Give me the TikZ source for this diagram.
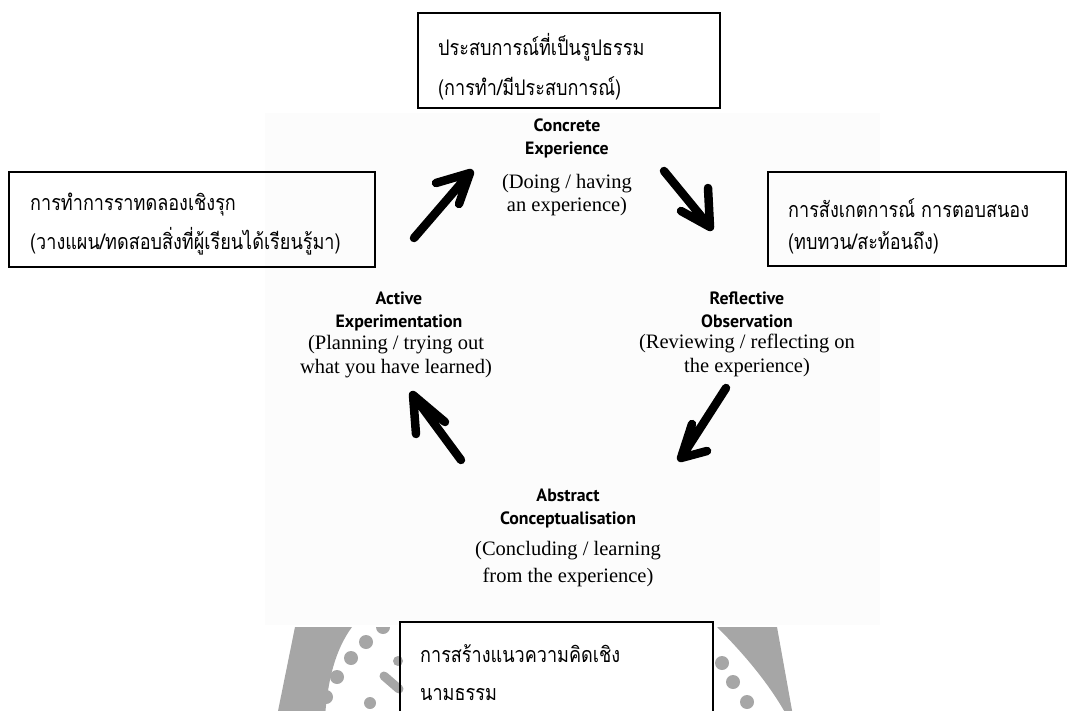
\documentclass[tikz,border=0pt]{standalone}
\usepackage{fontspec}
\usepackage{graphicx}
\setmainfont{Liberation Serif}
\newfontfamily\thaifont[Script=Thai]{Loma}
\newfontfamily\titlefont{PT Sans}
\newcommand\thx[1]{\scalebox{0.84}[1]{#1}}
\definecolor{wm}{HTML}{A6A6A6}
\definecolor{bgtint}{HTML}{FCFCFC}
\begin{document}
\begin{tikzpicture}[x=1pt,y=-1pt,
  tbox/.style={draw=black, line width=1.7pt, inner sep=0pt, outer sep=0pt, anchor=north west},
  thai/.style={font={\thaifont\fontsize{21.5}{26}\selectfont}, anchor=base west, inner sep=0pt},
  ttl/.style={font={\titlefont\bfseries\fontsize{17.8}{23}\selectfont}, align=center, inner sep=0pt},
  dsc/.style={font={\fontsize{20.5}{23.5}\selectfont}, align=center, inner sep=0pt},
  harrow/.style={line width=8.5pt, line cap=round, line join=round}]
\useasboundingbox (0,0) rectangle (1073,711);
\clip (0,0) rectangle (1073,711);
% faint scanned background of the figure
\fill[bgtint] (265,113) rectangle (880,625);
% watermark seal (partly visible)
\begin{scope}
\clip (0,627) rectangle (1073,711);
\fill[wm] (295,627) -- (277,716) -- (325,716) .. controls (328,680) and (335,650) .. (352,627) -- cycle;
\foreach \p in {(383,627),(366,642),(351,658),(337,677),(326,697)} \fill[wm] \p circle (7pt);
\draw[wm, line width=9pt, line cap=round] (384,676) -- (399,689);
\fill[wm] (370,703) circle (6pt);
\fill[wm] (398,661) circle (5pt);
\fill[wm] (717,627) .. controls (745,655) and (770,685) .. (787,716) -- (793,716) -- (777,627) -- cycle;
\foreach \p in {(722,663),(733,682),(747,702)} \fill[wm] \p circle (7pt);
\end{scope}
% Thai boxes
\node[tbox, minimum width=302pt, minimum height=95pt] (cebox) at (418,13) {};
\node[thai] (ce1) at (438,56) {\thx{ประสบการณ์ที่เป็นรูปธรรม}};
\node[thai] (ce2) at (438,96) {\thx{(การทำ/มีประสบการณ์)}};
\node[tbox, minimum width=366pt, minimum height=95pt] (aebox) at (9,172) {};
\node[thai] (ae1) at (30,211) {\thx{การทำการราทดลองเชิงรุก}};
\node[thai] (ae2) at (30,250) {\thx{(วางแผน/ทดสอบสิ่งที่ผู้เรียนได้เรียนรู้มา)}};
\node[tbox, minimum width=298pt, minimum height=94pt] (robox) at (768,172) {};
\node[thai] (ro1) at (788,218) {\thx{การสังเกตการณ์ การตอบสนอง}};
\node[thai] (ro2) at (788,250) {\thx{(ทบทวน/สะท้อนถึง)}};
\node[tbox, minimum width=313pt, minimum height=100pt] (acbox) at (400,622) {};
\node[thai] (ac1) at (420,662) {\thx{การสร้างแนวความคิดเชิง}};
\node[thai] (ac2) at (420,700) {\thx{นามธรรม}};
% cycle labels
\node[ttl] (cet) at (567,138.5) {Concrete\\Experience};
\node[dsc] (ced) at (567,195) {(Doing / having\\an experience)};
\node[ttl] (rot) at (747,309.5) {Reflective\\Observation};
\node[dsc] (rod) at (747,355.5) {(Reviewing / reflecting on\\the experience)};
\node[ttl] (act) at (568,508.5) {Abstract\\Conceptualisation};
\node[dsc, font={\fontsize{20.5}{27}\selectfont}] (acd) at (568,564) {(Concluding / learning\\from the experience)};
\node[ttl] (aet) at (399,311.5) {Active\\Experimentation};
\node[dsc] (aed) at (396,356.5) {(Planning / trying out\\what you have learned)};
% hand-drawn arrows
\coordinate (tlTail) at (414,238); \coordinate (tlTip) at (470,173);
\coordinate (tlA) at (436,183); \coordinate (tlB) at (459,204);
\coordinate (trTail) at (664,171); \coordinate (trTip) at (710,227);
\coordinate (trA) at (708,188); \coordinate (trB) at (681,211);
\coordinate (lrTail) at (726,388); \coordinate (lrTip) at (681,458);
\coordinate (lrA) at (692,424); \coordinate (lrB) at (707,451);
\coordinate (llTail) at (461,460); \coordinate (llTip) at (413,395);
\coordinate (llA) at (416,434); \coordinate (llB) at (445,422);
\draw[harrow] (tlTail) -- (tlTip) (tlA) -- (tlTip) -- (tlB);
\draw[harrow] (trTail) -- (trTip) (trA) -- (trTip) -- (trB);
\draw[harrow] (lrTail) -- (lrTip) (lrA) -- (lrTip) -- (lrB);
\draw[harrow] (llTail) -- (llTip) (llA) -- (llTip) -- (llB);
\end{tikzpicture}
\end{document}
